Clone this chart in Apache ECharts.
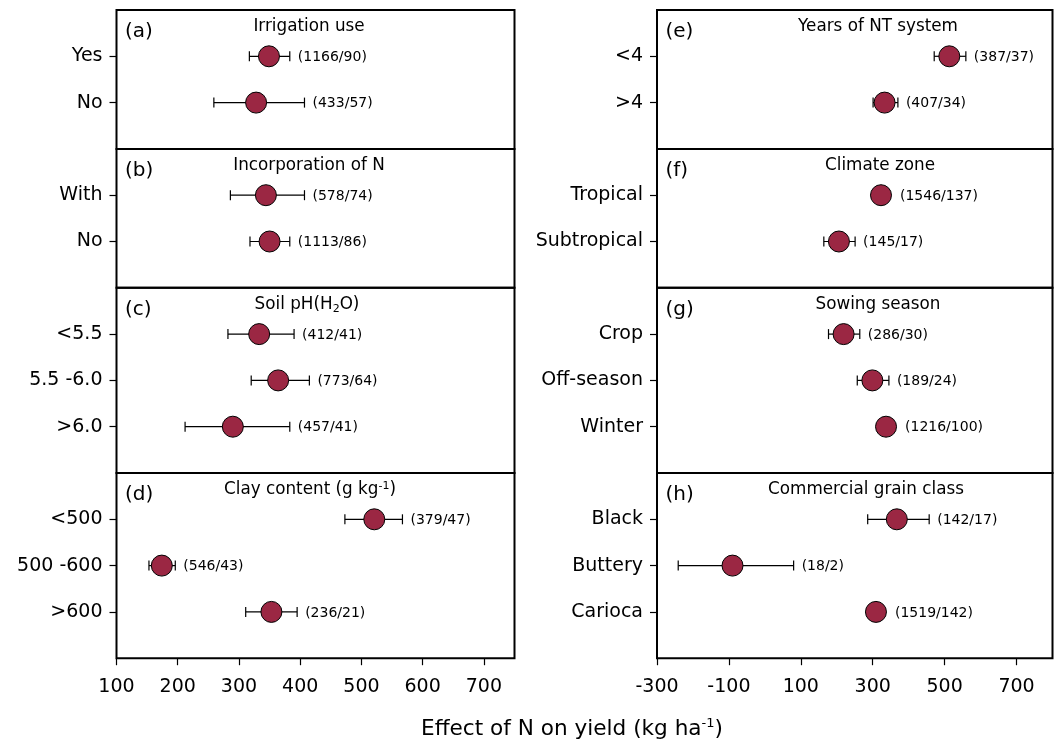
<!DOCTYPE html>
<html><head><meta charset="utf-8">
<script src="https://cdn.jsdelivr.net/npm/echarts@6/dist/echarts.min.js"></script>
<style>html,body{margin:0;padding:0;background:#fff}#c{width:1059px;height:744px}</style>
</head><body><div id="c"></div>
<script>
// ---------------- data ----------------
const catsA = ['Yes', 'No'];
const meanA = [349, 328];
const loA = [317, 259];
const hiA = [383, 407];
const nA = ['(1166/90)', '(433/57)'];

const catsB = ['With', 'No'];
const meanB = [344, 350];
const loB = [286, 318];
const hiB = [407, 383];
const nB = ['(578/74)', '(1113/86)'];

const catsC = ['<5.5', '5.5 -6.0', '>6.0'];
const meanC = [333, 364, 290];
const loC = [282, 320, 212];
const hiC = [390, 415, 383];
const nC = ['(412/41)', '(773/64)', '(457/41)'];

const catsD = ['<500', '500 -600', '>600'];
const meanD = [521, 174, 353];
const loD = [473, 153, 311];
const hiD = [567, 196, 395];
const nD = ['(379/47)', '(546/43)', '(236/21)'];

const catsE = ['<4', '>4'];
const meanE = [513, 333];
const loE = [471, 301];
const hiE = [559, 370];
const nE = ['(387/37)', '(407/34)'];

const catsF = ['Tropical', 'Subtropical'];
const meanF = [323, 206];
const loF = [306, 164];
const hiF = [340, 251];
const nF = ['(1546/137)', '(145/17)'];

const catsG = ['Crop', 'Off-season', 'Winter'];
const meanG = [219, 299, 337];
const loG = [177, 257, 320];
const hiG = [264, 345, 354];
const nG = ['(286/30)', '(189/24)', '(1216/100)'];

const catsH = ['Black', 'Buttery', 'Carioca'];
const meanH = [367, -90, 309];
const loH = [286, -241, 293];
const hiH = [457, 80, 325];
const nH = ['(142/17)', '(18/2)', '(1519/142)'];

const ticksLeft = [100, 200, 300, 400, 500, 600, 700];
const ticksRight = [-300, -100, 100, 300, 500, 700];
const rangeLeft = [100, 750];
const rangeRight = [-300, 800];

const titles = ['Irrigation use', 'Incorporation of N', 'Soil pH(H{s|2}O)', 'Clay content (g kg{p|-1})',
                'Years of NT system', 'Climate zone', 'Sowing season', 'Commercial grain class'];
const letters = ['(a)', '(b)', '(c)', '(d)', '(e)', '(f)', '(g)', '(h)'];
const xTitle = 'Effect of N on yield (kg ha{p|-1})';

// ---------------- layout ----------------
const FONT = 'DejaVu Sans';
const MARK = '#9B2743';
const TOP = 10, UNIT = 46.3;
const COLS = [{x: 116.5, w: 398, range: rangeLeft, ticks: ticksLeft},
              {x: 657, w: 395.5, range: rangeRight, ticks: ticksRight}];
const panelsData = [
  [catsA, meanA, loA, hiA, nA], [catsB, meanB, loB, hiB, nB],
  [catsC, meanC, loC, hiC, nC], [catsD, meanD, loD, hiD, nD],
  [catsE, meanE, loE, hiE, nE], [catsF, meanF, loF, hiF, nF],
  [catsG, meanG, loG, hiG, nG], [catsH, meanH, loH, hiH, nH]
];
const titleX = [309, 309, 307, 310, 878, 880, 878, 866];

const grid = [], xAxis = [], yAxis = [], series = [], graphic = [];
const rich = {
  s: {fontSize: 11, fontFamily: FONT, color: '#000', verticalAlign: 'bottom', padding: [8, 0, 0, 0]},
  p: {fontSize: 11, fontFamily: FONT, color: '#000', verticalAlign: 'top', padding: [0, 0, 8, 0]}
};

panelsData.forEach((pd, k) => {
  const col = COLS[k < 4 ? 0 : 1];
  const row = k % 4;
  const [cats, mean, lo, hi, nlab] = pd;
  const unitsBefore = [0, 3, 6, 10][row];
  const nUnits = cats.length + 1;
  const top = TOP + unitsBefore * UNIT;
  const h = nUnits * UNIT;
  const bottomPanel = row === 3;
  grid.push({left: col.x, top: top, width: col.w, height: h, show: true,
             borderColor: '#000', borderWidth: 2, backgroundColor: 'transparent'});
  xAxis.push({
    type: 'value', gridIndex: k, min: col.range[0], max: col.range[1],
    axisLine: {show: false, onZero: false}, splitLine: {show: false},
    axisTick: {show: bottomPanel, customValues: col.ticks, length: 7, lineStyle: {color: '#000', width: 1.2}},
    axisLabel: {show: bottomPanel, customValues: col.ticks, fontSize: 19, fontFamily: FONT, color: '#000', margin: 19}
  });
  const yData = [' '].concat(cats, ['  ']);
  yAxis.push({
    type: 'category', gridIndex: k, data: yData, inverse: true, boundaryGap: false,
    axisLine: {show: false, onZero: false}, splitLine: {show: false},
    axisTick: {show: true, length: 7, interval: (i, v) => v.trim() !== '', lineStyle: {color: '#000', width: 1.2}},
    axisLabel: {interval: (i, v) => v.trim() !== '', fontSize: 19, fontFamily: FONT, color: '#000', margin: 14}
  });
  series.push({
    type: 'custom', xAxisIndex: k, yAxisIndex: k, z: 2,
    encode: {x: [0, 1], y: 2},
    data: cats.map((c, i) => [lo[i], hi[i], c, mean[i]]),
    renderItem: (params, api) => {
      const i = params.dataIndex;
      const yv = api.value(2);
      const p0 = api.coord([api.value(0), yv]);
      const p1 = api.coord([api.value(1), yv]);
      const pm = api.coord([api.value(3), yv]);
      const ls = {stroke: '#000', lineWidth: 1.2};
      const tx = Math.max(p1[0] + 8, pm[0] + 19);
      return {type: 'group', children: [
        {type: 'line', shape: {x1: p0[0], y1: p0[1], x2: p1[0], y2: p1[1]}, style: ls},
        {type: 'line', shape: {x1: p0[0], y1: p0[1] - 5, x2: p0[0], y2: p0[1] + 5}, style: ls},
        {type: 'line', shape: {x1: p1[0], y1: p1[1] - 5, x2: p1[0], y2: p1[1] + 5}, style: ls},
        {type: 'text', x: tx, y: p1[1] + 1, style: {text: nlab[i], fontSize: 14, fontFamily: FONT,
          fill: '#000', align: 'left', verticalAlign: 'middle'}}
      ]};
    }
  });
  series.push({
    type: 'scatter', xAxisIndex: k, yAxisIndex: k, z: 3, symbol: 'circle', symbolSize: 21,
    itemStyle: {color: MARK, borderColor: '#000', borderWidth: 1, opacity: 1},
    data: cats.map((c, i) => [mean[i], c])
  });
  graphic.push({type: 'text', x: col.x + 8.5, y: top + 22, style: {text: letters[k], fontSize: 20,
    fontFamily: FONT, fill: '#000', align: 'left', verticalAlign: 'middle'}});
  graphic.push({type: 'text', x: titleX[k], y: top + 17, style: {text: titles[k], fontSize: 16.8,
    fontFamily: FONT, fill: '#000', align: 'center', verticalAlign: 'middle', rich: rich}});
});

graphic.push({type: 'text', x: 572, y: 729, style: {text: xTitle, fontSize: 21.6, fontFamily: FONT,
  fill: '#000', align: 'center', verticalAlign: 'middle',
  rich: {p: {fontSize: 13, fontFamily: FONT, color: '#000', verticalAlign: 'top', padding: [0, 0, 10, 0]}}}});

const chart = echarts.init(document.getElementById('c'), null, {renderer: 'canvas'});
chart.setOption({
  animation: false,
  backgroundColor: '#fff',
  textStyle: {fontFamily: FONT},
  grid, xAxis, yAxis, series, graphic
});
</script></body></html>
